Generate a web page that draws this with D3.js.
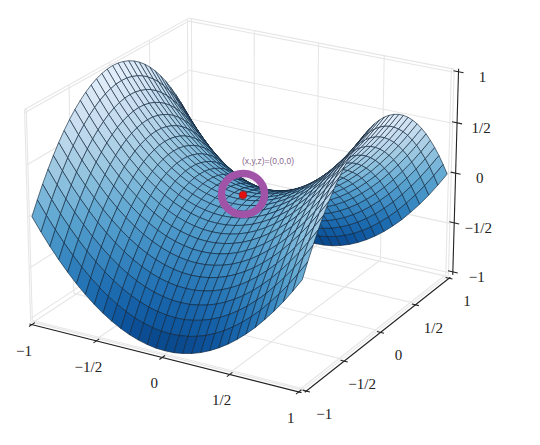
<!DOCTYPE html>
<html><head><meta charset="utf-8">
<style>html,body{margin:0;padding:0;background:#fff}svg{display:block}</style>
<script src="https://cdn.jsdelivr.net/npm/d3@7"></script></head>
<body><svg id="c" width="540" height="445"></svg>
<script>
const gridX = [-1,-.933,-.867,-.8,-.733,-.667,-.6,-.533,-.467,-.4,-.333,-.267,-.2,-.133,-.067,0,.067,.133,.2,.267,.333,.4,.467,.533,.6,.667,.733,.8,.867,.933,1];
const gridY = gridX.slice();
const riseAlongX = [1,.871,.751,.64,.538,.444,.36,.284,.218,.16,.111,.071,.04,.018,.004,0,.004,.018,.04,.071,.111,.16,.218,.284,.36,.444,.538,.64,.751,.871,1];
const fallAlongY = riseAlongX.slice();
const tickValues = [-1,-.5,0,.5,1];
const tickLabels = ["\u22121","\u22121/2","0","1/2","1"];
const annotation = "(x,y,z)=(0,0,0)";

const W=540,H=445;
const svg=d3.select("#c");
const lim=1.02, zlim=1.03;
const sx=d3.scaleLinear([-lim,lim],[-.5,.5]), sy=d3.scaleLinear([-lim,lim],[-.5,.5]), sz=d3.scaleLinear([-zlim,zlim],[-.365,.365]);
const el=22.5*Math.PI/180, az=-60*Math.PI/180, dist=10, scale=310, cx=243, cy=195;
const n=[Math.cos(el)*Math.cos(az),Math.cos(el)*Math.sin(az),Math.sin(el)];
const hyp=Math.hypot(n[0],n[1]);
const u=[-n[1]/hyp,n[0]/hyp,0];
const v=[n[1]*u[2]-n[2]*u[1],n[2]*u[0]-n[0]*u[2],n[0]*u[1]-n[1]*u[0]];
const dot=(a,b)=>a[0]*b[0]+a[1]*b[1]+a[2]*b[2];
const world=(x,y,z)=>[sx(x),sy(y),sz(z)];
function proj(x,y,z){const P=world(x,y,z),f=dist/(dist-dot(P,n));return [cx+scale*dot(P,u)*f,cy-scale*dot(P,v)*f];}
const depth=(x,y,z)=>dot(world(x,y,z),n);
const line=d3.line();

// panes
const gGrid=svg.append("g").attr("fill","none").attr("stroke","#e6e6e6").attr("stroke-width",1.1);
const seg=(g,a,b)=>g.append("path").attr("d",line([proj(...a),proj(...b)]));
tickValues.forEach(t=>{
  seg(gGrid,[t,-lim,-zlim],[t,lim,-zlim]); seg(gGrid,[t,lim,-zlim],[t,lim,zlim]);
  seg(gGrid,[-lim,t,-zlim],[lim,t,-zlim]); seg(gGrid,[-lim,t,-zlim],[-lim,t,zlim]);
  seg(gGrid,[-lim,-lim,t],[-lim,lim,t]); seg(gGrid,[-lim,lim,t],[lim,lim,t]);
});
[[[-lim,-lim,-zlim],[lim,-lim,-zlim]],[[lim,-lim,-zlim],[lim,lim,-zlim]],[[lim,lim,-zlim],[lim,lim,zlim]],
 [[-lim,-lim,-zlim],[-lim,-lim,zlim]],[[-lim,-lim,zlim],[-lim,lim,zlim]],[[-lim,lim,zlim],[lim,lim,zlim]]]
 .forEach(([a,b])=>seg(gGrid,a,b));

// surface
const faces=[];
for(let i=0;i<gridX.length-1;i++)for(let j=0;j<gridY.length-1;j++){
  const c=[[i,j],[i+1,j],[i+1,j+1],[i,j+1]].map(([a,b])=>[gridX[a],gridY[b],riseAlongX[a]-fallAlongY[b]]);
  const m=[d3.mean(c,d=>d[0]),d3.mean(c,d=>d[1]),d3.mean(c,d=>d[2])];
  faces.push({c,z:m[2],d:depth(...m)});
}
faces.sort((a,b)=>d3.ascending(a.d,b.d));
const tScale=d3.scaleLinear([-1,0,1],[.93,.52,.08]);
svg.append("g").selectAll("path").data(faces).join("path")
  .attr("d",f=>line(f.c.map(p=>proj(...p)))+"Z")
  .attr("fill",f=>d3.interpolateBlues(tScale(f.z)))
  .attr("stroke","#10243a").attr("stroke-opacity",.85).attr("stroke-width",.75).attr("stroke-linejoin","round");

// axes
const gAxis=svg.append("g").attr("fill","none").attr("stroke","#222").attr("stroke-width",1.1);
const off=.015, zoff=.022;
const ax=-lim-off, ay=lim+off, azx=lim+zoff;
seg(gAxis,[-lim,ax,-zlim-off],[lim,ax,-zlim-off]);
seg(gAxis,[ay,-lim,-zlim-off],[ay,lim,-zlim-off]);
seg(gAxis,[azx,azx,-zlim],[azx,azx,zlim]);
const gLab=svg.append("g").attr("font-family","'Liberation Serif',serif").attr("font-size",15).attr("fill","#222").attr("text-anchor","middle");
tickValues.forEach((t,i)=>{
  seg(gAxis,[t,ax-.035,-zlim-off],[t,ax+.035,-zlim-off]);
  let p=proj(t,ax,-zlim-off);
  gLab.append("text").attr("x",p[0]-8).attr("y",p[1]+31).text(tickLabels[i]);
  seg(gAxis,[ay-.026,t,-zlim-off],[ay+.026,t,-zlim-off]);
  p=proj(ay,t,-zlim-off);
  gLab.append("text").attr("x",p[0]+18).attr("y",p[1]+28).text(tickLabels[i]);
  seg(gAxis,[azx-.037,azx,t],[azx+.037,azx,t]);
  p=proj(azx,azx,t);
  gLab.append("text").attr("x",p[0]+24).attr("y",p[1]+10).text(tickLabels[i]);
});

// annotation
const o=proj(0,0,0);
svg.append("ellipse").attr("cx",o[0]).attr("cy",o[1]-1).attr("rx",21.5).attr("ry",20.5).attr("fill","none").attr("stroke","#a153a8").attr("stroke-width",7.5);
svg.append("circle").attr("cx",o[0]).attr("cy",o[1]).attr("r",3.8).attr("fill","#e3100f").attr("stroke","#8a1020").attr("stroke-width",.6);
svg.append("text").attr("x",o[0]+25).attr("y",o[1]-31).attr("text-anchor","middle").attr("font-family","'Liberation Sans',sans-serif").attr("font-size",8.5).attr("fill","#8a6a90").text(annotation);
</script></body></html>
